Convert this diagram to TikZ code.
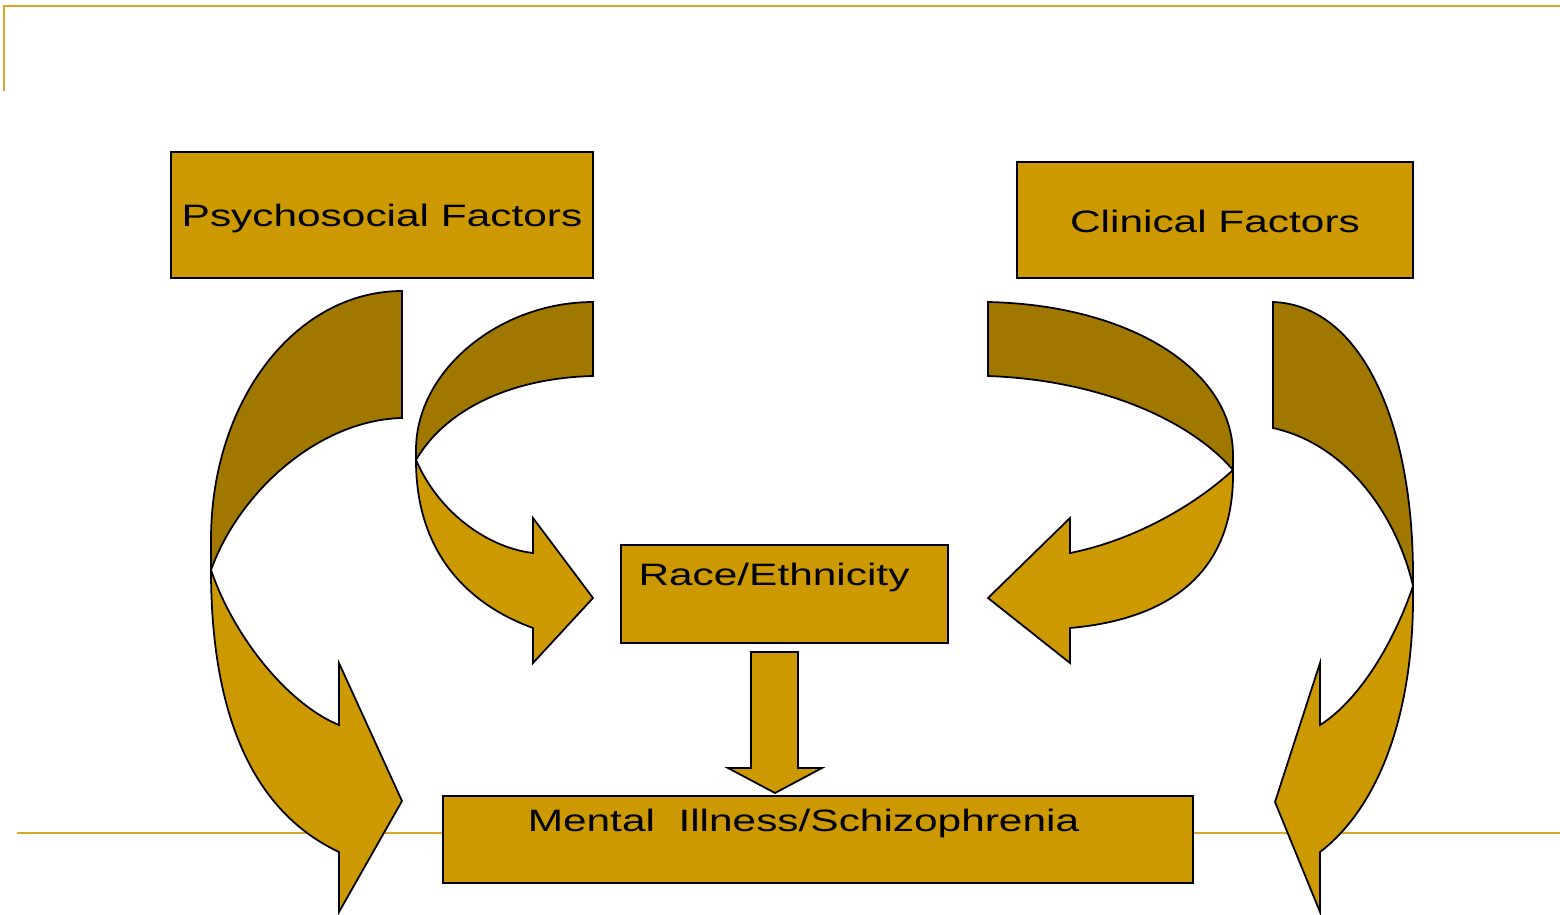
\documentclass[tikz,border=0pt]{standalone}
\usepackage{fontspec}
\setmainfont{Liberation Sans}[FakeStretch=1.37]
\definecolor{gold}{RGB}{204,153,0}
\definecolor{darkgold}{RGB}{160,120,0}
\definecolor{rulegold}{RGB}{218,168,40}

\begin{document}
\begin{tikzpicture}[x=0.01cm, y=-0.01cm, font=\fontsize{8.8}{10}\selectfont,
  box/.style={rectangle, draw, fill=gold, line width=0.6pt, inner sep=0pt, anchor=north},
  back/.style={draw, fill=darkgold, line width=0.5pt},
  front/.style={draw, fill=gold, line width=0.5pt}]
	\useasboundingbox (0,0) rectangle (1560,914);

	% slide rules
	\draw[rulegold, line width=0.7pt] (4,91) -- (4,6) -- (1560,6);
	\draw[rulegold, line width=0.6pt] (17,833) -- (1560,833);

	% psychosocial -> mental illness
	\path[back] (402,291) .. controls (296,291) and (211,400) .. (211,540) -- (211,570)
		.. controls (240,490) and (320,420) .. (402,418) -- cycle;
	\path[front] (211,570) .. controls (235,640) and (290,705) .. (339,725) -- (339,663) -- (402,801)
		-- (339,912) -- (339,852) .. controls (250,810) and (211,710) .. (211,570) -- cycle;

	% psychosocial -> race
	\path[back] (593,302) .. controls (500,302) and (416,370) .. (416,450) -- (416,460)
		.. controls (445,410) and (510,378) .. (593,376) -- cycle;
	\path[front] (416,460) .. controls (440,515) and (490,548) .. (533,553) -- (533,518) -- (593,598)
		-- (533,663) -- (533,628) .. controls (470,605) and (416,555) .. (416,460) -- cycle;

	% clinical -> race
	\path[back] (988,302) .. controls (1130,305) and (1233,370) .. (1233,455) -- (1233,470)
		.. controls (1190,420) and (1100,380) .. (988,376) -- cycle;
	\path[front] (1233,470) .. controls (1195,505) and (1135,540) .. (1070,553) -- (1070,518) -- (988,598)
		-- (1070,663) -- (1070,628) .. controls (1160,620) and (1235,580) .. (1233,470) -- cycle;

	% clinical -> mental illness
	\path[back] (1273,302) .. controls (1360,305) and (1413,420) .. (1413,575) -- (1413,586)
		.. controls (1398,520) and (1350,445) .. (1273,428) -- cycle;
	\path[front] (1413,586) .. controls (1395,640) and (1360,700) .. (1320,725) -- (1320,663) -- (1275,802)
		-- (1320,912) -- (1320,852) .. controls (1375,810) and (1415,720) .. (1413,586) -- cycle;

	% race -> mental illness
	\path[front] (751,652) -- (798,652) -- (798,768) -- (822,768) -- (775,793) -- (728,768) -- (751,768) -- cycle;

	\node[box, minimum width=4.22cm, text height=0.74cm, text depth=0.52cm] (psy) at (382,151) {Psychosocial Factors};
	\node[box, minimum width=3.96cm, text height=0.70cm, text depth=0.46cm] (clin) at (1215,161) {Clinical Factors};
	\node[box, minimum width=3.27cm, text height=0.40cm, text depth=0.58cm] (race) at (784.5,544) {Race/Ethnicity\hspace*{0.21cm}};
	\node[box, minimum width=7.5cm, text height=0.35cm, text depth=0.52cm] (ill) at (818,795) {Mental\ \ Illness/Schizophrenia\hspace*{0.29cm}};
\end{tikzpicture}
\end{document}
